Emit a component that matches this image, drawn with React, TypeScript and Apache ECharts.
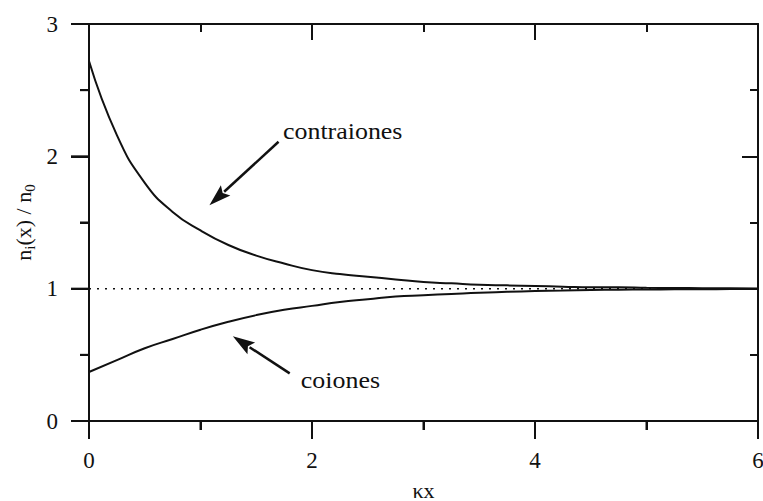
import React, { useEffect, useRef } from "react";
import * as echarts from "echarts";

// κx sample positions
const kx = [0, 0.25, 0.5, 0.75, 1, 1.25, 1.5, 1.75, 2, 2.25, 2.5, 2.75, 3, 3.25, 3.5, 3.75, 4, 4.25, 4.5, 4.75, 5, 5.25, 5.5, 5.75, 6];
// n_i(x)/n_0 for counter-ions
const contraiones = [2.72, 2.16, 1.8, 1.58, 1.44, 1.33, 1.25, 1.19, 1.14, 1.11, 1.09, 1.07, 1.05, 1.04, 1.03, 1.025, 1.02, 1.015, 1.01, 1.01, 1.007, 1.005, 1.004, 1.003, 1.002];
// n_i(x)/n_0 for co-ions
const coiones = [0.37, 0.46, 0.55, 0.62, 0.69, 0.75, 0.8, 0.84, 0.87, 0.9, 0.92, 0.94, 0.95, 0.96, 0.97, 0.976, 0.982, 0.986, 0.99, 0.992, 0.994, 0.995, 0.996, 0.997, 0.998];
// bulk reference level
const bulkLevel = 1;

// tick values of the frame
const xMajorTicks = [0, 2, 4, 6];
const xMinorTicks = [1, 3, 5];
const yMajorTicks = [0, 1, 2, 3];
const yMinorTicks = [0.5, 1.5, 2.5];

// annotation anchors in data units: [tail, tip] of arrows, and label anchors
const contraArrow = [[1.7, 2.11], [1.08, 1.63]];
const coionArrow = [[1.8, 0.36], [1.29, 0.64]];
const contraLabelPos = [1.74, 2.19];
const coionLabelPos = [1.9, 0.31];

const FONT = "Liberation Serif";
const INK = "#111";

type ToPx = (p: number[]) => number[];

function arrowGraphics(toPx: ToPx, pts: number[][]) {
  const a = toPx(pts[0]);
  const b = toPx(pts[1]);
  const dx = b[0] - a[0];
  const dy = b[1] - a[1];
  const len = Math.hypot(dx, dy);
  const ux = dx / len;
  const uy = dy / len;
  const headLen = 22;
  const headHalf = 7;
  const bx = b[0] - ux * headLen;
  const by = b[1] - uy * headLen;
  return [
    {
      type: "line",
      shape: { x1: a[0], y1: a[1], x2: bx + ux * 2, y2: by + uy * 2 },
      style: { stroke: INK, lineWidth: 2.5 },
    },
    {
      type: "polygon",
      shape: {
        points: [
          [b[0], b[1]],
          [bx - uy * headHalf, by + ux * headHalf],
          [bx + ux * 4, by + uy * 4],
          [bx + uy * headHalf, by - ux * headHalf],
        ],
      },
      style: { fill: INK },
    },
  ];
}

// outward tick marks on the bottom and left edges, drawn as filled bars
function outerTickGraphics(toPx: ToPx) {
  const bar = (x: number, y: number, width: number, height: number) => ({
    type: "rect",
    z: 10,
    shape: { x, y, width, height },
    style: { fill: INK },
  });
  const out: any[] = [];
  xMajorTicks.forEach((v) => {
    const p = toPx([v, 0]);
    out.push(bar(p[0] - 1, p[1], 2, 18));
  });
  xMinorTicks.forEach((v) => {
    const p = toPx([v, 0]);
    out.push(bar(p[0] - 1, p[1], 2, 9));
  });
  yMajorTicks.forEach((v) => {
    const p = toPx([0, v]);
    out.push(bar(p[0] - 18, p[1] - 1, 18, 2));
  });
  yMinorTicks.forEach((v) => {
    const p = toPx([0, v]);
    out.push(bar(p[0] - 9, p[1] - 1, 9, 2));
  });
  return out;
}

export default function App() {
  const ref = useRef<HTMLDivElement>(null);

  useEffect(() => {
    if (!ref.current) return;
    const chart = echarts.init(ref.current, null, { renderer: "svg" });

    const axisCommon = {
      type: "value" as const,
      axisLine: { show: true, onZero: false, lineStyle: { color: INK, width: 2 } },
      splitLine: { show: false },
      minorSplitLine: { show: false },
    };
    const innerTick = () => ({
      axisTick: { show: true, inside: true, length: 16, lineStyle: { color: INK, width: 2 } },
      minorTick: { show: true, splitNumber: 2, length: 8, lineStyle: { color: INK, width: 2 } },
    });
    const outerTick = () => ({
      axisTick: { show: true, inside: false, length: 18, lineStyle: { color: INK, width: 2 } },
      minorTick: { show: true, splitNumber: 2, length: 9, lineStyle: { color: INK, width: 2 } },
    });

    chart.setOption({
      animation: false,
      backgroundColor: "#fff",
      grid: { left: 89, right: 5, top: 24, bottom: 80, containLabel: false, outerBoundsMode: "none" },
      xAxis: [
        {
          ...axisCommon,
          ...outerTick(),
          position: "bottom",
          min: 0,
          max: 6,
          interval: 2,
          axisLabel: { fontFamily: FONT, fontSize: 23, color: INK, margin: 28 },
          name: "κx",
          nameLocation: "middle",
          nameGap: 58,
          nameTextStyle: { fontFamily: FONT, fontSize: 22, color: INK },
        },
        {
          ...axisCommon,
          ...innerTick(),
          position: "top",
          min: 0,
          max: 6,
          interval: 2,
          axisLabel: { show: false },
        },
      ],
      yAxis: [
        {
          ...axisCommon,
          ...innerTick(),
          position: "right",
          min: 0,
          max: 3,
          interval: 1,
          axisLabel: { show: false },
        },
        {
          ...axisCommon,
          ...outerTick(),
          position: "left",
          min: 0,
          max: 3,
          interval: 1,
          axisLabel: { fontFamily: FONT, fontSize: 23, color: INK, margin: 31 },
        },
      ],
      series: [
        {
          name: "nivel",
          type: "line",
          yAxisIndex: 1,
          data: [
            [0, bulkLevel],
            [6, bulkLevel],
          ],
          showSymbol: false,
          lineStyle: { color: INK, width: 1.5, type: [2, 6] },
          z: 1,
        },
        {
          name: "contraiones",
          type: "line",
          yAxisIndex: 1,
          data: kx.map((x, i) => [x, contraiones[i]]),
          smooth: 0.5,
          showSymbol: false,
          lineStyle: { color: INK, width: 2 },
          z: 2,
        },
        {
          name: "coiones",
          type: "line",
          yAxisIndex: 1,
          data: kx.map((x, i) => [x, coiones[i]]),
          smooth: 0.5,
          showSymbol: false,
          lineStyle: { color: INK, width: 2 },
          z: 2,
        },
      ],
    });

    const toPx: ToPx = (p) =>
      chart.convertToPixel({ xAxisIndex: 0, yAxisIndex: 1 }, p) as number[];
    const cLabel = toPx(contraLabelPos);
    const iLabel = toPx(coionLabelPos);
    const mid = toPx([0, 1.5]);

    chart.setOption({
      graphic: [
        ...outerTickGraphics(toPx),
        ...arrowGraphics(toPx, contraArrow),
        ...arrowGraphics(toPx, coionArrow),
        {
          type: "text",
          x: cLabel[0],
          y: cLabel[1],
          scaleX: 1.08,
          style: {
            text: "contraiones",
            fontFamily: FONT,
            fontSize: 24,
            fill: INK,
            verticalAlign: "middle",
          },
        },
        {
          type: "text",
          x: iLabel[0],
          y: iLabel[1],
          scaleX: 1.08,
          style: {
            text: "coiones",
            fontFamily: FONT,
            fontSize: 24,
            fill: INK,
            verticalAlign: "middle",
          },
        },
        {
          type: "text",
          x: mid[0] - 66,
          y: mid[1],
          rotation: Math.PI / 2,
          style: {
            text: "n{sub|i}(x) / n{sub|0}",
            fontFamily: FONT,
            fontSize: 22,
            fill: INK,
            align: "center",
            verticalAlign: "middle",
            rich: {
              sub: { fontFamily: FONT, fontSize: 15, fill: INK, padding: [14, 0, 0, 0] },
            },
          },
        },
      ],
    });

    return () => chart.dispose();
  }, []);

  return (
    <div
      ref={ref}
      style={{ position: "fixed", left: 0, top: 0, width: 763, height: 501 }}
    />
  );
}
